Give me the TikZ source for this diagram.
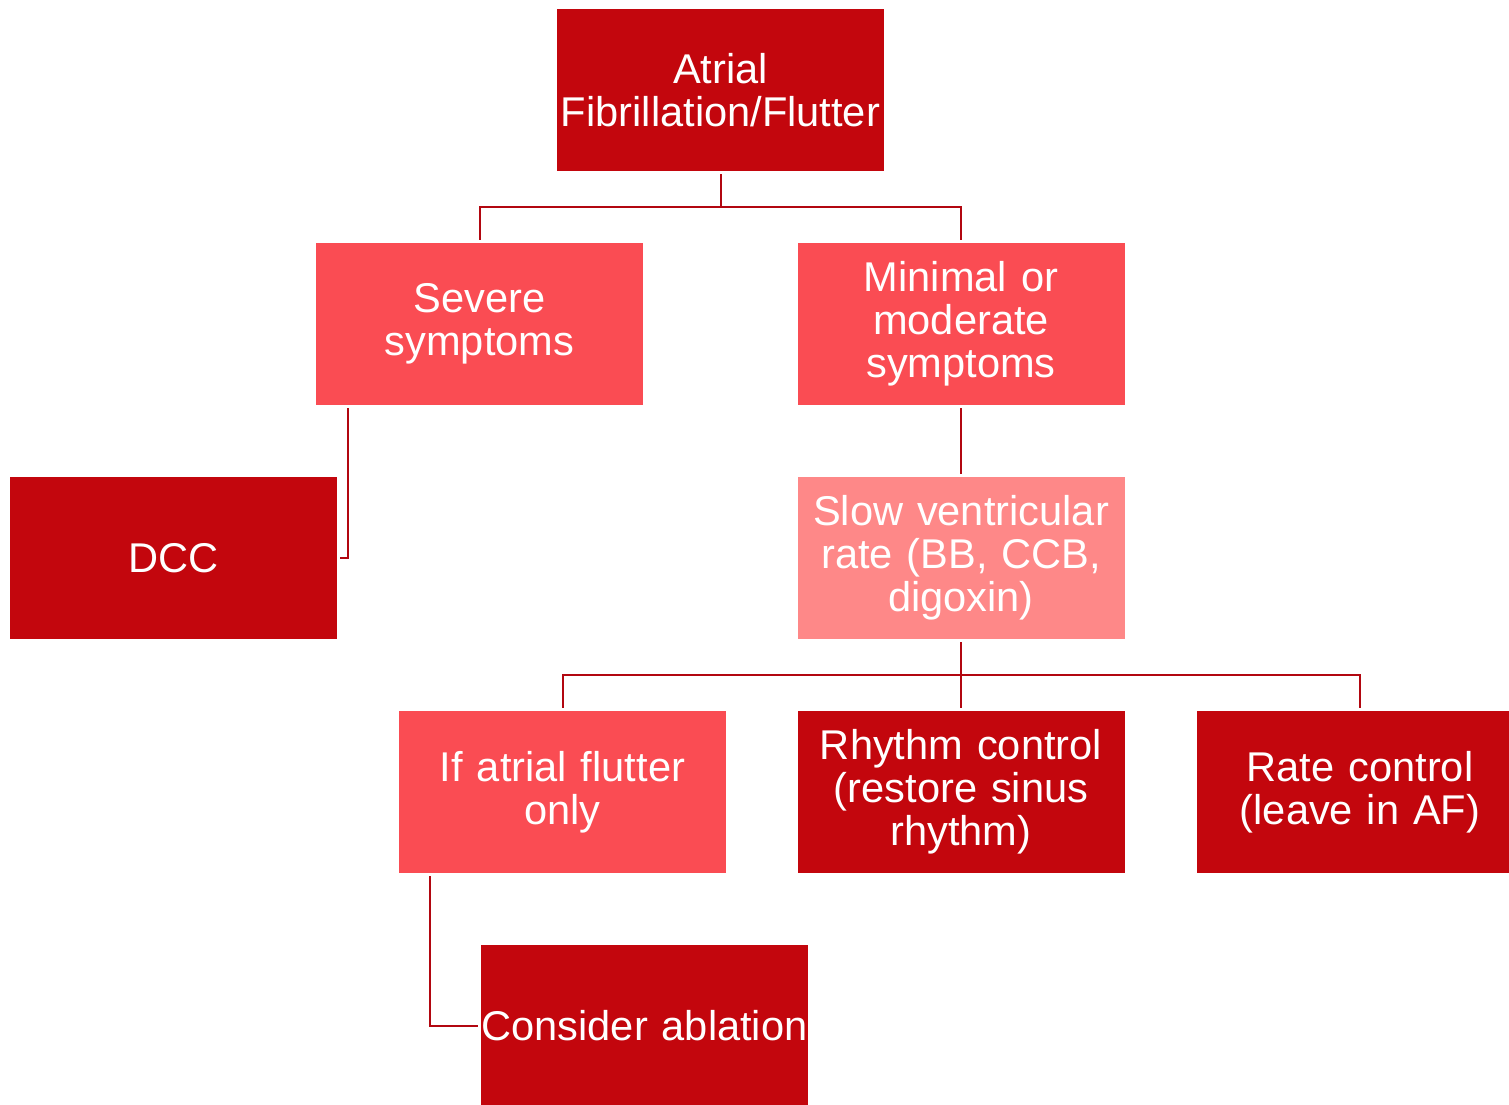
\documentclass[tikz,border=0pt]{standalone}
\usepackage{fontspec}
\setmainfont{Liberation Sans}
\definecolor{darkred}{HTML}{C3060D}
\definecolor{midred}{HTML}{FA4C53}
\definecolor{lightred}{HTML}{FE8888}
\definecolor{linered}{HTML}{B20710}

\begin{document}
\begin{tikzpicture}[x=0.5pt, y=-0.5pt,
    box/.style={rectangle, minimum width=163.5pt, minimum height=81pt, inner sep=0pt,
      text width=163pt, align=center, text=white, font=\fontsize{20.8}{21.6}\selectfont},
    darkbox/.style={box, fill=darkred},
    midbox/.style={box, fill=midred},
    lightbox/.style={box, fill=lightred},
    link/.style={draw=linered, line width=1pt, shorten <=1.5pt, shorten >=1.5pt}]
  \useasboundingbox (0,0) rectangle (1509,1104);
  \clip (0,0) rectangle (1509,1104);
  % Boxes (centres in pixel coords of the page)
  \node[darkbox] (af) at (720.5,90) {Atrial\\Fibrillation/Flutter};
  \node[midbox] (severe) at (479.5,324) {Severe\\symptoms};
  \node[midbox] (minimal) at (961,324) {Minimal or\\moderate\\symptoms};
  \node[darkbox] (dcc) at (173.5,558) {DCC};
  \node[lightbox] (slow) at (961,558) {Slow ventricular\\rate (BB, CCB,\\digoxin)};
  \node[midbox] (flutter) at (562.5,792) {If atrial flutter\\only};
  \node[darkbox] (rhythm) at (961,792) {Rhythm control\\(restore sinus\\rhythm)};
  \node[darkbox] (rate) at (1360,792) {Rate control\\(leave in AF)};
  \node[darkbox] (ablation) at (644.5,1026) {\makebox[\linewidth]{Consider ablation}};
  % Tree links
  \draw[link] (af.south) -- ++(0,36) -| (severe.north);
  \draw[link] (af.south) -- ++(0,36) -| (minimal.north);
  \draw[link] (minimal.south) -- (slow.north);
  \draw[link] (slow.south) -- ++(0,36) -| (flutter.north);
  \draw[link] (slow.south) -- (rhythm.north);
  \draw[link] (slow.south) -- ++(0,36) -| (rate.north);
  % Side links
  \draw[link] ([xshift=16pt]severe.south west) |- (dcc.east);
  \draw[link] ([xshift=15.5pt]flutter.south west) |- (ablation.west);
\end{tikzpicture}
\end{document}
